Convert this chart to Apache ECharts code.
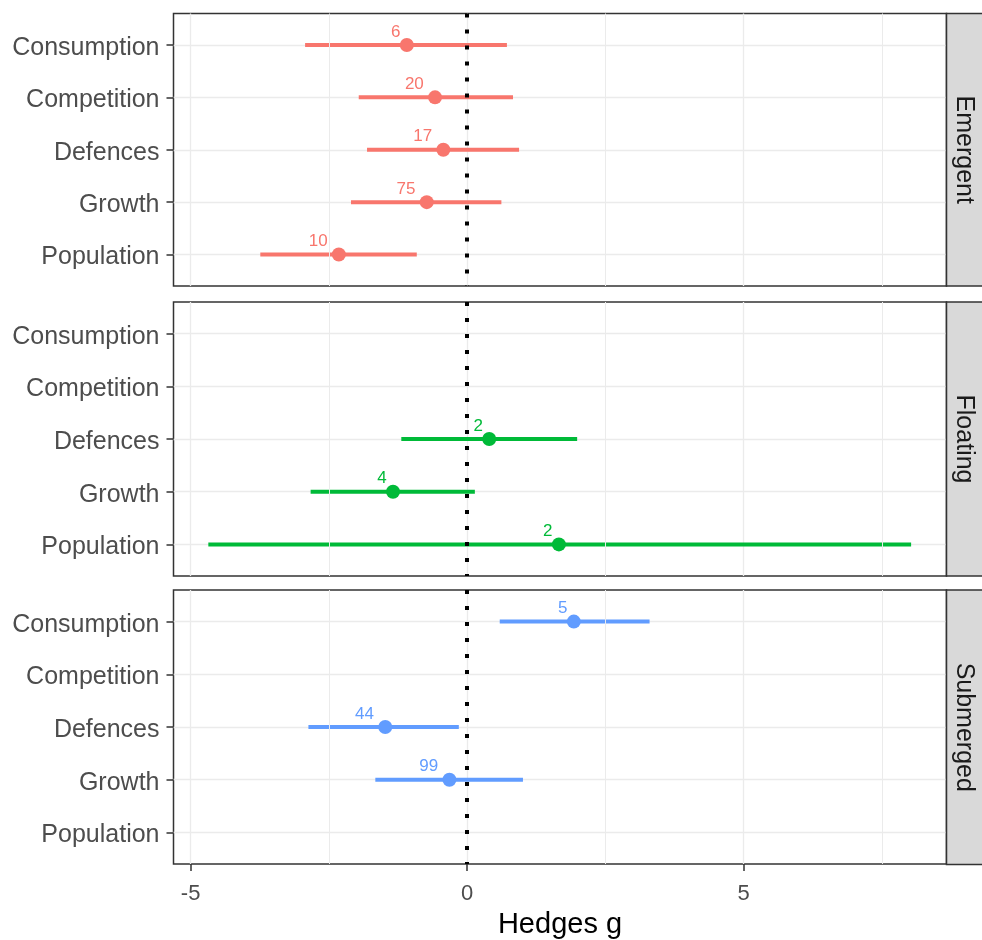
<!DOCTYPE html>
<html lang="en">
<head>
    <meta charset="UTF-8">
    <title>Hedges g</title>
    <script type="text/javascript" src="https://cdn.jsdelivr.net/npm/echarts@6/dist/echarts.min.js"></script>
    <style>
        html, body { margin: 0; padding: 0; background: #fff; }
    </style>
</head>
<body>
    <div id="main" style="width: 982px;height:940px;"></div>
    <script type="text/javascript">
        // response categories, top to bottom
        var responses = ['Consumption', 'Competition', 'Defences', 'Growth', 'Population'];
        // facets
        var habitats = ['Emergent', 'Floating', 'Submerged'];
        var colors = ['#F8766D', '#00BA38', '#619CFF'];

        // Emergent
        var emergentG = [-1.09, -0.58, -0.43, -0.73, -2.32];
        var emergentLo = [-2.93, -1.96, -1.81, -2.10, -3.74];
        var emergentHi = [0.72, 0.83, 0.94, 0.62, -0.91];
        var emergentN = [6, 20, 17, 75, 10];

        // Floating
        var floatingG = [null, null, 0.40, -1.34, 1.66];
        var floatingLo = [null, null, -1.19, -2.83, -4.68];
        var floatingHi = [null, null, 1.99, 0.14, 8.03];
        var floatingN = [null, null, 2, 4, 2];

        // Submerged
        var submergedG = [1.93, null, -1.48, -0.32, null];
        var submergedLo = [0.59, null, -2.87, -1.66, null];
        var submergedHi = [3.30, null, -0.15, 1.01, null];
        var submergedN = [5, null, 44, 99, null];

        // x axis ticks
        var xTicks = [-5, 0, 5];
        var xMinorTicks = [-2.5, 2.5, 7.5];
        var xMin = -5.31, xMax = 8.67;

        var panels = [
            { g: emergentG, lo: emergentLo, hi: emergentHi, n: emergentN },
            { g: floatingG, lo: floatingLo, hi: floatingHi, n: floatingN },
            { g: submergedG, lo: submergedLo, hi: submergedHi, n: submergedN }
        ];

        var font = 'Liberation Sans, Arial, sans-serif';
        var yIdx = responses.map(function (r, i) { return i; });

        // panel boxes (layout only)
        var boxes = [
            { top: 13.5, height: 272.5 },
            { top: 302, height: 274 },
            { top: 590, height: 274.5 }
        ];
        var panelLeft = 173.5, panelWidth = 773;

        var grid = [], xAxis = [], yAxis = [], series = [], graphic = [];

        boxes.forEach(function (b, p) {
            var last = p === boxes.length - 1;
            grid.push({
                left: panelLeft, top: b.top, width: panelWidth, height: b.height,
                show: true, borderColor: '#333333', borderWidth: 1.5,
                backgroundColor: 'transparent', containLabel: false
            });
            xAxis.push({
                type: 'value', gridIndex: p, min: xMin, max: xMax, position: 'bottom',
                axisLine: { show: false, onZero: false },
                axisTick: { show: last, customValues: xTicks, length: 7, lineStyle: { color: '#333333', width: 1.5 } },
                axisLabel: {
                    show: last, customValues: xTicks, margin: 19,
                    fontSize: 22, color: '#4D4D4D', fontFamily: font
                },
                splitLine: { show: true, lineStyle: { color: '#EBEBEB', width: 1.3 } },
                name: last ? 'Hedges g' : '', nameLocation: 'middle', nameGap: 46,
                nameTextStyle: { fontSize: 29, color: '#000', fontFamily: font }
            });
            yAxis.push({
                type: 'value', gridIndex: p, min: -0.6, max: 4.6, inverse: true, position: 'left',
                axisLine: { show: false, onZero: false },
                axisTick: { show: true, customValues: yIdx, length: 7, lineStyle: { color: '#333333', width: 1.5 } },
                axisLabel: {
                    customValues: yIdx, margin: 14,
                    formatter: function (v) { return '{t|' + responses[Math.round(v)] + '}'; },
                    rich: {
                        t: { fontSize: 25, color: '#4D4D4D', fontFamily: font, padding: [6, 0, 0, 0] }
                    }
                },
                splitLine: { show: true, lineStyle: { color: '#EBEBEB', width: 1.3 } }
            });

            var d = panels[p];
            var bars = [], pts = [];
            for (var i = 0; i < responses.length; i++) {
                if (d.g[i] === null) continue;
                bars.push([d.lo[i], i, d.hi[i]]);
                var len = String(d.n[i]).length;
                pts.push({
                    value: [d.g[i], i, d.n[i]],
                    label: { offset: [-(1.5 + 9.6 * len), -13] }
                });
            }

            // minor gridlines
            series.push({
                type: 'line', xAxisIndex: p, yAxisIndex: p, data: [], z: 1, silent: true,
                markLine: {
                    silent: true, symbol: ['none', 'none'], label: { show: false },
                    lineStyle: { color: '#EBEBEB', width: 1, type: 'solid' },
                    emphasis: { disabled: true },
                    data: xMinorTicks.map(function (v) { return { xAxis: v }; })
                }
            });

            // confidence intervals
            series.push({
                type: 'custom', xAxisIndex: p, yAxisIndex: p, z: 3, silent: true,
                data: bars,
                encode: { x: [0, 2], y: 1 },
                renderItem: (function (c) {
                    return function (params, api) {
                        var a = api.coord([api.value(0), api.value(1)]);
                        var e = api.coord([api.value(2), api.value(1)]);
                        return {
                            type: 'line',
                            shape: { x1: a[0], y1: a[1], x2: e[0], y2: e[1] },
                            style: { stroke: c, lineWidth: 4 }
                        };
                    };
                })(colors[p])
            });

            // effect sizes with sample counts
            series.push({
                type: 'scatter', xAxisIndex: p, yAxisIndex: p, z: 4, silent: true,
                symbol: 'circle', symbolSize: 14,
                itemStyle: { color: colors[p], opacity: 1 },
                data: pts,
                label: {
                    show: true, position: 'inside', fontSize: 17, fontFamily: font, color: colors[p],
                    formatter: function (o) { return o.value[2]; }
                },
                markLine: {
                    silent: true, symbol: ['none', 'none'], label: { show: false },
                    lineStyle: { color: '#000', width: 4, type: [4, 12], cap: 'butt' },
                    emphasis: { disabled: true },
                    z: 5,
                    data: [{ xAxis: 0 }]
                }
            });

            // facet strip
            graphic.push({
                type: 'rect', z: 10,
                shape: { x: panelLeft + panelWidth, y: b.top, width: 40, height: b.height },
                style: { fill: '#D9D9D9', stroke: '#333333', lineWidth: 1.5 }
            });
            graphic.push({
                type: 'text', z: 11,
                x: panelLeft + panelWidth + 17.5, y: b.top + b.height / 2,
                rotation: -Math.PI / 2,
                style: {
                    text: habitats[p], fontSize: 25, fontFamily: font, fill: '#1A1A1A',
                    align: 'center', verticalAlign: 'middle'
                }
            });
        });

        var myChart = echarts.init(document.getElementById('main'));
        myChart.setOption({
            animation: false,
            grid: grid,
            xAxis: xAxis,
            yAxis: yAxis,
            series: series,
            graphic: graphic
        });
    </script>
</body>
</html>
